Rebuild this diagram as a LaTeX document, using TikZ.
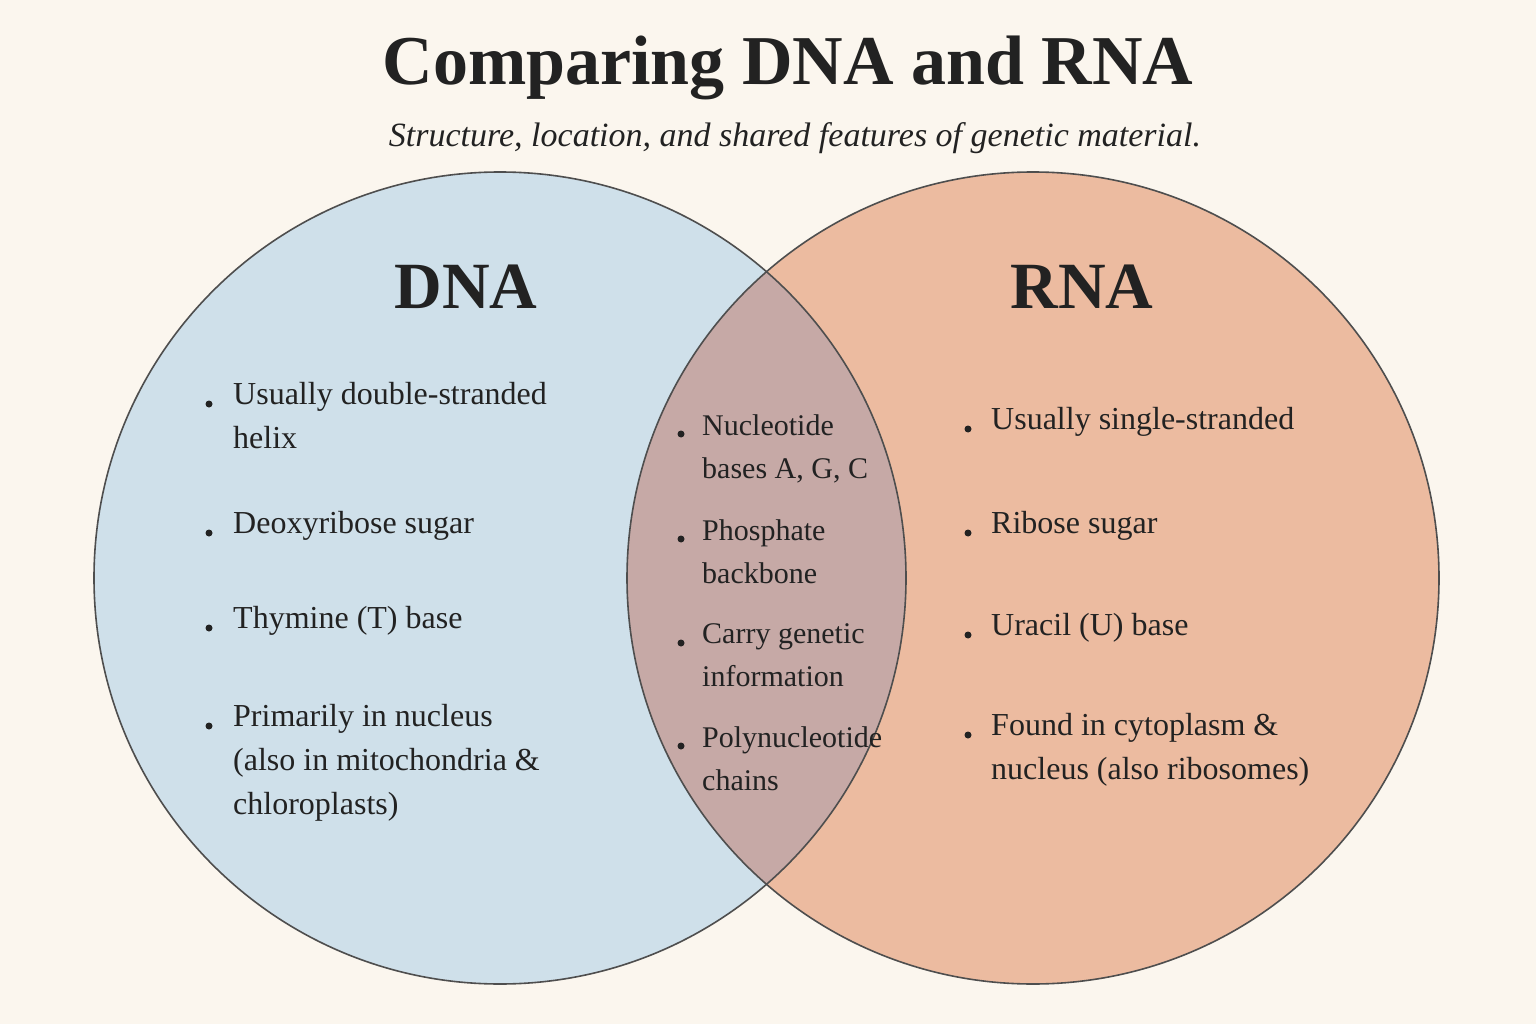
\documentclass[tikz,border=0pt]{standalone}
\usepackage{fontspec}
\setmainfont{Liberation Serif}
\definecolor{bg}{HTML}{FBF6EE}
\definecolor{dnac}{HTML}{CFE0EA}
\definecolor{rnac}{HTML}{ECBBA0}
\definecolor{midc}{HTML}{C6A9A6}
\definecolor{ink}{HTML}{222222}
\begin{document}
\begin{tikzpicture}[x=1pt,y=-1pt,
  item/.style={anchor=north west,align=left,font=\fontsize{32}{44}\selectfont,text=ink,inner sep=0pt},
  mitem/.style={anchor=north west,align=left,font=\fontsize{30}{43}\selectfont,text=ink,inner sep=0pt},
  dot/.style={circle,fill=ink,inner sep=0pt,minimum size=7pt},
  ring/.style={draw=ink!80,line width=1.6pt}]
\fill[bg] (0,0) rectangle (1536,1024);
\useasboundingbox (0,0) rectangle (1536,1024);
\fill[dnac] (500,578) circle (406);
\fill[rnac] (1033,578) circle (406);
\begin{scope}
\clip (500,578) circle (406);
\fill[midc] (1033,578) circle (406);
\end{scope}
\draw[ring] (500,578) circle (406);
\draw[ring] (1033,578) circle (406);
\node[font=\bfseries\fontsize{70}{80}\selectfont,text=ink] (title) at (788,68) {Comparing DNA and RNA};
\node[font=\itshape\fontsize{34}{40}\selectfont,text=ink] (sub) at (795,138) {Structure, location, and shared features of genetic material.};
\node[font=\bfseries\fontsize{66}{70}\selectfont,text=ink] (dna) at (466,287) {DNA};
\node[font=\bfseries\fontsize{66}{70}\selectfont,text=ink] (rna) at (1082,287) {RNA};
% DNA
\node[item] (d1) at (233,382) {Usually double-stranded\\helix};
\node[item] (d2) at (233,511) {Deoxyribose sugar};
\node[item] (d3) at (233,606) {Thymine (T) base};
\node[item] (d4) at (233,704) {Primarily in nucleus\\(also in mitochondria \&\\chloroplasts)};
\foreach \y in {404,533,628,726} \node[dot] at (209,\y) {};
% middle
\node[mitem] (m1) at (702,414) {Nucleotide\\bases A, G, C};
\node[mitem] (m2) at (702,519) {Phosphate\\backbone};
\node[mitem] (m3) at (702,623) {Carry genetic\\information};
\node[mitem] (m4) at (702,726) {Polynucleotide\\chains};
\foreach \y in {434,539,643,746} \node[dot] at (681,\y) {};
% RNA
\node[item] (r1) at (991,407) {Usually single-stranded};
\node[item] (r2) at (991,511) {Ribose sugar};
\node[item] (r3) at (991,613) {Uracil (U) base};
\node[item] (r4) at (991,713) {Found in cytoplasm \&\\nucleus (also ribosomes)};
\foreach \y in {429,533,635,735} \node[dot] at (968,\y) {};
\end{tikzpicture}
\end{document}
